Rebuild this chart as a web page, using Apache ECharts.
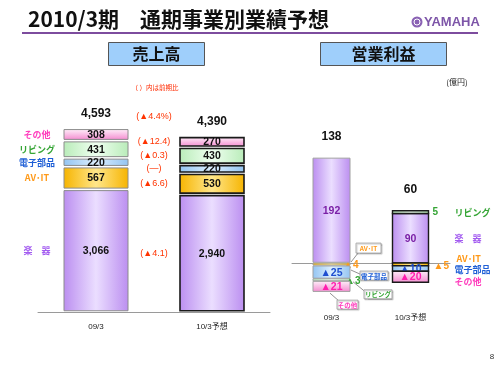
<!DOCTYPE html>
<html>
<head>
<meta charset="utf-8">
<script src="https://cdn.jsdelivr.net/npm/echarts@6/dist/echarts.min.js"></script>
<style>html,body{margin:0;padding:0;background:#fff;}#c{width:500px;height:375px;}</style>
</head>
<body>
<div id="c"></div>
<script>
// ---- data ----
const categories = ['09/3', '10/3予想'];
const segNames = ['楽　器', 'AV･IT', '電子部品', 'リビング', 'その他'];
const salesGakki = [3066, 2940];
const salesAVIT = [567, 530];
const salesDenshi = [220, 220];
const salesLiving = [431, 430];
const salesOther = [308, 270];
const salesTotals = [4593, 4390];
const salesChange = ['(▲4.1)', '(▲6.6)', '(―)', '(▲0.3)', '(▲12.4)'];
const salesTotalChange = '(▲4.4%)';
const profitGakki = [192, 90];
const profitAVIT = [-4, -5];
const profitDenshi = [-25, -10];
const profitLiving = [-3, 5];
const profitOther = [-21, -20];
const profitTotals = [138, 60];

// ---- styles ----
const JP = '"Noto Sans CJK JP", sans-serif';
const LAT = '"Liberation Sans", "Noto Sans CJK JP", sans-serif';
const segStyles = [
  {edge: '#bb8ef0', mid: '#ebdeff', label: '#a35cf0', inner: '#7a1fa6'},
  {edge: '#f6b400', mid: '#ffe68a', label: '#ff9a1a', inner: '#ff9a1a'},
  {edge: '#93c4f2', mid: '#dcefff', label: '#1f5fd6', inner: '#1f4fd0'},
  {edge: '#b9ecb9', mid: '#effff0', label: '#35a535', inner: '#35a535'},
  {top: '#fff0fa', bottom: '#f48bd0', label: '#ff3dbd', inner: '#ff1fae'}
];
const barCfg = {
  left: [{width: 64, gap: 2.5, stroke: '#8c8c8c', lw: 1}, {width: 64, gap: 2.5, stroke: '#1a1a1a', lw: 1.6}],
  right: [{width: 37, gap: 1.5, stroke: '#a0a0a0', lw: 1}, {width: 36, gap: 0, stroke: '#1a1a1a', lw: 1.4}]
};

function fmt(v) { return v < 0 ? '▲' + Math.abs(v) : v.toLocaleString('en-US'); }
function fillFor(i) {
  const s = segStyles[i];
  if (s.top) return new echarts.graphic.LinearGradient(0, 0, 0, 1, [{offset: 0, color: s.top}, {offset: 1, color: s.bottom}]);
  return new echarts.graphic.LinearGradient(0, 0, 1, 0, [{offset: 0, color: s.edge}, {offset: 0.5, color: s.mid}, {offset: 1, color: s.edge}]);
}
function stackData(lists) {
  const pos = [0, 0], neg = [0, 0];
  const out = lists.map(vals => vals.map((v, c) => {
    let s, e;
    if (v >= 0) { s = pos[c]; e = s + v; pos[c] = e; } else { s = neg[c]; e = s + v; neg[c] = e; }
    return [c, s, e, v];
  }));
  return {data: out, tops: pos};
}
const leftStack = stackData([salesGakki, salesAVIT, salesDenshi, salesLiving, salesOther]);
const rightStack = stackData([profitGakki, profitAVIT, profitDenshi, profitLiving, profitOther]);

function txt(text, x, y, color, size, weight, align, family) {
  return {type: 'text', style: {text: text, x: x, y: y, fill: color, fontSize: size, fontWeight: weight || 'normal',
    fontFamily: family || LAT, align: align || 'center', verticalAlign: 'middle'}};
}

// side labels on right chart (outside of thin bars)
const rightSide = {1: [{dx: -7, dy: 1}, {dx: 5, dy: 2}], 3: [{dx: -5, dy: 1.5}, {dx: 4, dy: 0}]};
const rightLegendDy = [0, -6, 1, 0, 5];

function makeRender(chart, segIdx) {
  return function (params, api) {
    const c = api.value(0), s = api.value(1), e = api.value(2), v = api.value(3);
    const p0 = api.coord([c, s]), p1 = api.coord([c, e]);
    const cfg = barCfg[chart][c];
    const w = cfg.width, cx = p0[0];
    const top = Math.min(p0[1], p1[1]), bot = Math.max(p0[1], p1[1]);
    let y = top + cfg.gap / 2, h = bot - top - cfg.gap;
    if (h < 2) { h = 2; y = (top + bot) / 2 - 1; }
    const cy = (top + bot) / 2;
    const left = cx - w / 2, right = cx + w / 2;
    const st = segStyles[segIdx];
    const ch = [{type: 'rect', shape: {x: left, y: y, width: w, height: h},
      style: {fill: fillFor(segIdx), stroke: cfg.stroke, lineWidth: cfg.lw}}];
    if (chart === 'left') {
      ch.push(txt(fmt(v), cx, cy + 0.5, '#111', 10.5, 'bold'));
      if (c === 0) ch.push(txt(segNames[segIdx], cx - 59, cy, st.label, 9, 'bold', 'center', JP));
      if (c === 1) ch.push(txt(salesChange[segIdx], cx - 58, cy, '#ff3300', 9, 'normal'));
    } else {
      const side = rightSide[segIdx];
      if (side) {
        ch.push(txt(fmt(v), right + side[c].dx, cy + side[c].dy, st.label, 10, 'bold', 'left'));
      } else {
        ch.push(txt(fmt(v), cx, cy + (segIdx === 2 && c === 0 ? 1.5 : 0.5), st.inner, 10.5, 'bold'));
      }
      if (c === 1) {
        ch.push(txt(segNames[segIdx], right + (segIdx === 1 ? 28 : 26), cy + rightLegendDy[segIdx], st.label, 9, 'bold', 'left', JP));
      }
      if (c === 0 && segIdx > 0) {
        let box, lead;
        if (segIdx === 1) { box = [right + 6, cy - 21, 25, 10]; lead = [right + 8, cy - 11, right + 1, cy - 2]; }
        if (segIdx === 2) { box = [right + 10, cy - 1, 28, 9]; lead = [right + 10, cy + 2, right + 1, cy - 2]; }
        if (segIdx === 3) { box = [right + 14, cy + 10, 28, 9]; lead = [right + 14, cy + 11, right + 3, cy + 2]; }
        if (segIdx === 4) { box = [left + 24, bot + 8, 21, 9]; lead = [left + 25, bot + 8, left + 17, bot + 1]; }
        ch.push({type: 'line', shape: {x1: lead[0], y1: lead[1], x2: lead[2], y2: lead[3]}, style: {stroke: '#777', lineWidth: 0.8}});
        ch.push({type: 'rect', shape: {x: box[0], y: box[1], width: box[2], height: box[3]},
          style: {fill: '#fff', stroke: '#9a9a9a', lineWidth: 0.8, shadowBlur: 1, shadowColor: 'rgba(0,0,0,0.25)', shadowOffsetX: 1, shadowOffsetY: 1}});
        ch.push(txt(segNames[segIdx], box[0] + box[2] / 2, box[1] + box[3] / 2 + 0.5, st.label, 6.5, 'bold', 'center', JP));
      }
    }
    return {type: 'group', children: ch};
  };
}

const series = [];
for (let i = 0; i < 5; i++) {
  series.push({type: 'custom', xAxisIndex: 0, yAxisIndex: 0, data: leftStack.data[i], renderItem: makeRender('left', i),
    encode: {x: 0, y: [1, 2]}, clip: false, silent: true});
}
for (let i = 0; i < 5; i++) {
  series.push({type: 'custom', xAxisIndex: 1, yAxisIndex: 1, data: rightStack.data[i], renderItem: makeRender('right', i),
    encode: {x: 0, y: [1, 2]}, clip: false, silent: true});
}
// totals
series.push({type: 'custom', xAxisIndex: 0, yAxisIndex: 0, clip: false, silent: true,
  data: leftStack.tops.map((t, c) => [c, t]), encode: {x: 0, y: 1},
  renderItem: function (params, api) {
    const c = api.value(0), p = api.coord([c, api.value(1)]);
    const ch = [txt(fmt(salesTotals[c]), p[0], p[1] - 15, '#111', 12, 'bold')];
    if (c === 1) ch.push(txt(salesTotalChange, p[0] - 58, p[1] - 20, '#ff3300', 9, 'normal'));
    return {type: 'group', children: ch};
  }});
series.push({type: 'custom', xAxisIndex: 1, yAxisIndex: 1, clip: false, silent: true,
  data: rightStack.tops.map((t, c) => [c, t]), encode: {x: 0, y: 1},
  renderItem: function (params, api) {
    const c = api.value(0), p = api.coord([c, api.value(1)]);
    const b = api.coord([c, -60]);
    return {type: 'group', children: [
      txt(String(profitTotals[c]), p[0], p[1] - 21, '#111', 12, 'bold'),
      txt(categories[c], p[0], b[1] + 22, '#222', 8, 'normal')
    ]};
  }});

const axisLine = {lineStyle: {color: '#9a9a9a', width: 1}};
const option = {
  backgroundColor: '#fff',
  animation: false,
  grid: [
    {left: 38, top: 72, width: 232, height: 240},
    {left: 292, top: 142, width: 158, height: 154}
  ],
  xAxis: [
    {gridIndex: 0, type: 'category', data: categories, axisLine: axisLine,
      axisTick: {length: 4, lineStyle: {color: '#9a9a9a'}},
      axisLabel: {margin: 11, fontSize: 8, color: '#222', fontFamily: LAT}},
    {gridIndex: 1, type: 'category', data: categories, axisLine: Object.assign({onZero: true}, axisLine),
      axisTick: {length: 3, lineStyle: {color: '#9a9a9a'}}, axisLabel: {show: false}}
  ],
  yAxis: [
    {gridIndex: 0, type: 'value', min: 0, max: 6000, show: false},
    {gridIndex: 1, type: 'value', min: -60, max: 220, show: false}
  ],
  graphic: [
    {type: 'text', x: 28, y: 19, style: {text: '2010/3期　通期事業別業績予想', fontSize: 21, fontWeight: 'bold', fontFamily: JP, fill: '#111', verticalAlign: 'middle'}},
    {type: 'line', shape: {x1: 22, y1: 33, x2: 478, y2: 33}, style: {stroke: '#7d4c9e', lineWidth: 2}},
    {type: 'circle', shape: {cx: 417, cy: 22, r: 5.5}, style: {fill: '#8a62b4'}},
    {type: 'circle', shape: {cx: 417, cy: 22, r: 3}, style: {fill: 'none', stroke: '#fff', lineWidth: 1}},
    {type: 'text', x: 424, y: 22, style: {text: 'YAMAHA', fontSize: 13, fontWeight: 'bold', fontFamily: '"Liberation Sans Narrow", "Liberation Sans", sans-serif', fill: '#7d55a8', verticalAlign: 'middle'}},
    {type: 'rect', shape: {x: 108.5, y: 42.5, width: 96, height: 23}, style: {fill: '#9fcffb', stroke: '#555', lineWidth: 1}},
    {type: 'text', x: 156.5, y: 54, style: {text: '売上高', fontSize: 16, fontWeight: 'bold', fontFamily: JP, fill: '#111', align: 'center', verticalAlign: 'middle'}},
    {type: 'rect', shape: {x: 320.5, y: 42.5, width: 126, height: 23}, style: {fill: '#9fcffb', stroke: '#555', lineWidth: 1}},
    {type: 'text', x: 383.5, y: 54, style: {text: '営業利益', fontSize: 16, fontWeight: 'bold', fontFamily: JP, fill: '#111', align: 'center', verticalAlign: 'middle'}},
    {type: 'text', x: 457, y: 82, style: {text: '(億円)', fontSize: 8, fontFamily: JP, fill: '#222', align: 'center', verticalAlign: 'middle'}},
    {type: 'text', x: 155, y: 88, style: {text: '（ ）内は前期比', fontSize: 6.5, fontFamily: JP, fill: '#ff2a00', align: 'center', verticalAlign: 'middle'}},
    {type: 'text', x: 492, y: 357, style: {text: '8', fontSize: 8, fontFamily: LAT, fill: '#333', align: 'center', verticalAlign: 'middle'}}
  ],
  series: series
};
const chart = echarts.init(document.getElementById('c'), null, {renderer: 'canvas'});
chart.setOption(option);
</script>
</body>
</html>
